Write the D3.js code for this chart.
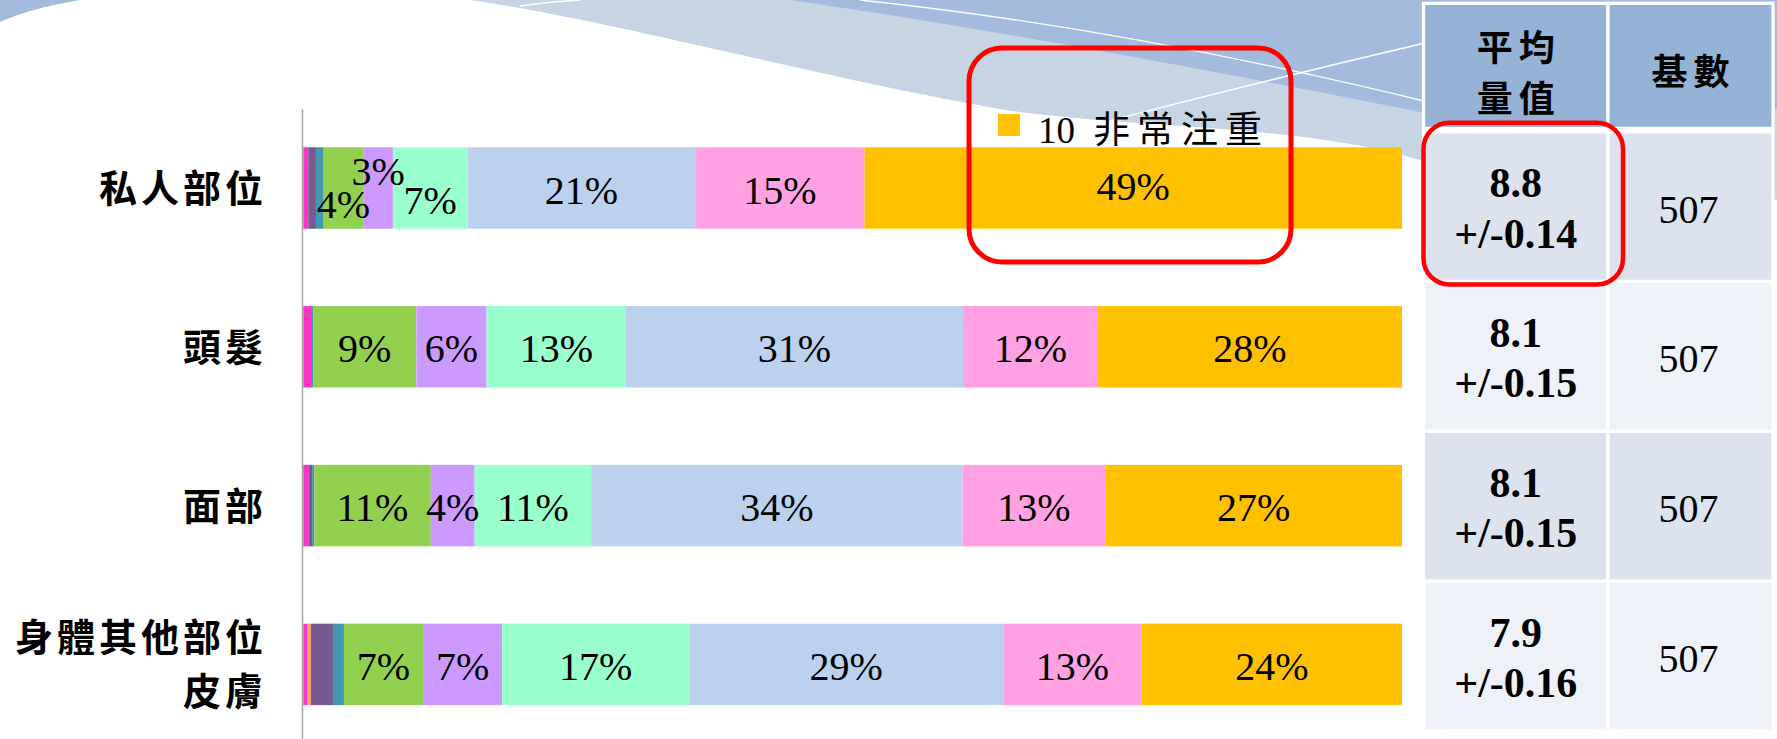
<!DOCTYPE html>
<html>
<head>
<meta charset="utf-8">
<script src="https://cdn.jsdelivr.net/npm/d3@7"></script>
<style>
  html, body { margin: 0; padding: 0; background: #fff; }
  svg { display: block; }
</style>
</head>
<body>
<svg id="chart" width="1777" height="739"></svg>
<script>
// categories (bars, top to bottom)
const categories = ["私人部位", "頭髮", "面部", "身體其他部位\n皮膚"];
// rating scale, 1 .. 10
const scoreKeys = ["1", "2", "3", "4", "5", "6", "7", "8", "9", "10 非常注重"];

// share of answers per score (%)
const privatePart = [0.45, 0, 0.7, 0.7, 3.6, 2.7, 6.8, 20.7, 15.4, 48.9];
const hair        = [0.7, 0, 0, 0.2, 9.4, 6.4, 12.7, 30.7, 12.3, 27.7];
const face        = [0.5, 0, 0.3, 0.2, 10.6, 4.0, 10.6, 33.8, 13.0, 27.0];
const otherSkin   = [0.4, 0.3, 2.0, 1.0, 7.2, 7.2, 17.0, 28.6, 12.6, 23.7];

// side table
const tableHeaders = ["平均\n量值", "基數"];
const meanScores = ["8.8", "8.1", "8.1", "7.9"];
const meanMargins = ["0.14", "0.15", "0.15", "0.16"];
const baseCounts = [507, 507, 507, 507];

const svg = d3.select("#chart");
const serif = "'Liberation Serif', 'Times New Roman', serif";
const cjk = "'Noto Sans CJK TC', 'Noto Sans CJK SC', sans-serif";

// ---------- background swoosh (template decoration) ----------
let bg = svg.append("g").attr("id", "background");
bg.append("path")
  .attr("d", "M470,0 C620,22 820,78 1005,110 C1150,130 1300,124 1420,160 L1777,200 L1777,0 Z")
  .attr("fill", "#c6d4e3");
bg.append("path")
  .attr("d", "M790,0 C1000,30 1250,78 1420,112 L1777,108 L1777,0 Z")
  .attr("fill", "#a3bcdd");
bg.append("path")
  .attr("d", "M0,0 L80,0 C50,5 22,12 0,22 Z")
  .attr("fill", "#a3bcdd");
bg.append("path")
  .attr("d", "M860,0 C1050,20 1250,58 1440,105")
  .attr("fill", "none").attr("stroke", "#fff").attr("stroke-width", 1.3);
bg.append("path")
  .attr("d", "M1090,126 Q1250,84 1425,43")
  .attr("fill", "none").attr("stroke", "#fff").attr("stroke-width", 1.3);
bg.append("path")
  .attr("d", "M520,6 C540,3 560,1 580,0")
  .attr("fill", "none").attr("stroke", "#fff").attr("stroke-width", 1.3);

// ---------- stacked bars ----------
const rows = [privatePart, hair, face, otherSkin];
const table = categories.map((c, i) => {
  let row = { category: c };
  scoreKeys.forEach((k, j) => row[k] = rows[i][j]);
  return row;
});

const series = d3.stack()
  .keys(scoreKeys)
  .offset(d3.stackOffsetExpand)(table);

let xScale = d3.scaleLinear()
  .domain([0, 1])
  .range([303.3, 1402]);

let yScale = d3.scaleBand()
  .domain(categories)
  .range([108.6, 743.8])
  .paddingInner(0.487)
  .paddingOuter(0.2435);

let colorScale = d3.scaleOrdinal()
  .domain(scoreKeys)
  .range(["#ff33cc", "#f4a77a", "#765a91", "#4397b0", "#92d050",
          "#cc99ff", "#99ffcc", "#bcd1ed", "#ffa1e3", "#ffc000"]);

// y axis: just the vertical line
svg.append("g")
  .attr("id", "yAxis")
  .attr("transform", "translate(302, 0)")
  .call(d3.axisLeft(yScale).tickSize(0).tickSizeOuter(0))
  .call(g => g.selectAll(".tick").remove())
  .call(g => g.select(".domain").attr("stroke", "#a6a6a6").attr("stroke-width", 1.5));

let layers = svg.append("g")
  .attr("id", "bars")
  .selectAll("g")
  .data(series)
  .join("g")
  .attr("fill", d => colorScale(d.key));

layers.selectAll("rect")
  .data(d => d)
  .join("rect")
  .attr("x", d => xScale(d[0]))
  .attr("y", d => yScale(d.data.category))
  .attr("width", d => xScale(d[1]) - xScale(d[0]))
  .attr("height", yScale.bandwidth());

// percentage labels; the crowded first bar has its small labels nudged up/down
const nudge = { "0|5": 14, "0|6": -19, "0|7": 10, "0|10": -4 };
let labels = [];
series.forEach((s, j) => {
  s.forEach((d, i) => {
    let v = d.data[s.key];
    if (v >= 2.5) labels.push({ x: (d[0] + d[1]) / 2, cat: d.data.category, v: v, dy: nudge[i + "|" + (j + 1)] || 0 });
  });
});

svg.append("g")
  .attr("id", "barLabels")
  .selectAll("text")
  .data(labels)
  .join("text")
  .attr("x", d => xScale(d.x))
  .attr("y", d => yScale(d.cat) + yScale.bandwidth() / 2 + 15.5 + d.dy)
  .attr("text-anchor", "middle")
  .style("font-family", serif)
  .style("font-size", "40px")
  .style("fill", "#000")
  .text(d => Math.round(d.v) + "%");

// category labels, right aligned before the axis
let catLabels = svg.append("g").attr("id", "categories");
categories.forEach(c => {
  let lines = c.split("\n");
  let cy = yScale(c) + yScale.bandwidth() / 2;
  lines.forEach((line, k) => {
    let offset = lines.length === 1 ? 0 : (k === 0 ? -28 : 26);
    catLabels.append("text")
      .attr("x", 267)
      .attr("y", cy + offset + 14.4)
      .attr("text-anchor", "end")
      .style("font-family", cjk)
      .style("font-weight", "bold")
      .style("font-size", "38px")
      .style("letter-spacing", "4px")
      .style("fill", "#000")
      .text(line);
  });
});

// legend: only the top score shows
let legend = svg.append("g").attr("id", "legend");
legend.append("rect")
  .attr("x", 998).attr("y", 114)
  .attr("width", 22).attr("height", 22)
  .attr("fill", colorScale(scoreKeys[9]));
let legendParts = scoreKeys[9].split(" ");
let legendText = legend.append("text")
  .attr("x", 1038).attr("y", 142.5)
  .style("font-family", "'Liberation Serif', 'Noto Sans CJK TC', serif")
  .style("font-size", "37px")
  .style("fill", "#000");
legendText.append("tspan").text(legendParts[0]);
legendText.append("tspan")
  .attr("dx", 18)
  .style("letter-spacing", "7px")
  .text(legendParts[1]);

// ---------- side table ----------
const colX = [1423.5, 1608, 1773];
let rowScale = d3.scaleBand()
  .domain(categories)
  .range([131.7, 731]);

let tbl = svg.append("g").attr("id", "table");
tbl.append("rect")
  .attr("x", colX[0]).attr("y", 3)
  .attr("width", colX[2] - colX[0]).attr("height", 730)
  .attr("fill", "#fff");

// header
tableHeaders.forEach((h, c) => {
  tbl.append("rect")
    .attr("x", colX[c]).attr("y", 3.3)
    .attr("width", colX[c + 1] - colX[c]).attr("height", 125.1)
    .attr("fill", "#95b3d7")
    .attr("stroke", "#fff").attr("stroke-width", 3.3);
  let cx = (colX[c] + colX[c + 1]) / 2;
  let lines = h.split("\n");
  lines.forEach((line, k) => {
    let gy = lines.length === 1 ? 71.7 : (k === 0 ? 47.5 : 98.3);
    tbl.append("text")
      .attr("x", cx + 3).attr("y", gy + 13.7)
      .attr("text-anchor", "middle")
      .style("font-family", cjk)
      .style("font-weight", "bold")
      .style("font-size", "36px")
      .style("letter-spacing", "6px")
      .style("fill", "#000")
      .text(line);
  });
});

// body rows
categories.forEach((cat, i) => {
  let top = rowScale(cat);
  let cy = top + rowScale.bandwidth() / 2;
  let fill = i % 2 === 0 ? "#dce3ef" : "#eef1f8";
  [0, 1].forEach(c => {
    tbl.append("rect")
      .attr("x", colX[c]).attr("y", top)
      .attr("width", colX[c + 1] - colX[c]).attr("height", rowScale.bandwidth())
      .attr("fill", fill)
      .attr("stroke", "#fff").attr("stroke-width", 3.3);
  });
  let cx1 = (colX[0] + colX[1]) / 2;
  let cx2 = (colX[1] + colX[2]) / 2;
  tbl.append("text")
    .attr("x", cx1).attr("y", cy - 9.5)
    .attr("text-anchor", "middle")
    .style("font-family", serif).style("font-weight", "bold").style("font-size", "42px")
    .text(meanScores[i]);
  tbl.append("text")
    .attr("x", cx1).attr("y", cy + 41)
    .attr("text-anchor", "middle")
    .style("font-family", serif).style("font-weight", "bold").style("font-size", "42px")
    .text("+/-" + meanMargins[i]);
  tbl.append("text")
    .attr("x", cx2 - 2).attr("y", cy + 16)
    .attr("text-anchor", "middle")
    .style("font-family", serif).style("font-size", "40px")
    .text(baseCounts[i]);
});

// ---------- red highlight boxes ----------
let marks = svg.append("g").attr("id", "highlights")
  .attr("fill", "none").attr("stroke", "#ff0000");
marks.append("rect")
  .attr("x", 969).attr("y", 48)
  .attr("width", 322).attr("height", 214)
  .attr("rx", 33).attr("ry", 33)
  .attr("stroke-width", 5);
let firstRow = rowScale(categories[0]);
marks.append("rect")
  .attr("x", colX[0]).attr("y", firstRow - 9)
  .attr("width", colX[1] + 15 - colX[0]).attr("height", rowScale.bandwidth() + 12)
  .attr("rx", 26).attr("ry", 26)
  .attr("stroke-width", 4.5);
</script>
</body>
</html>
